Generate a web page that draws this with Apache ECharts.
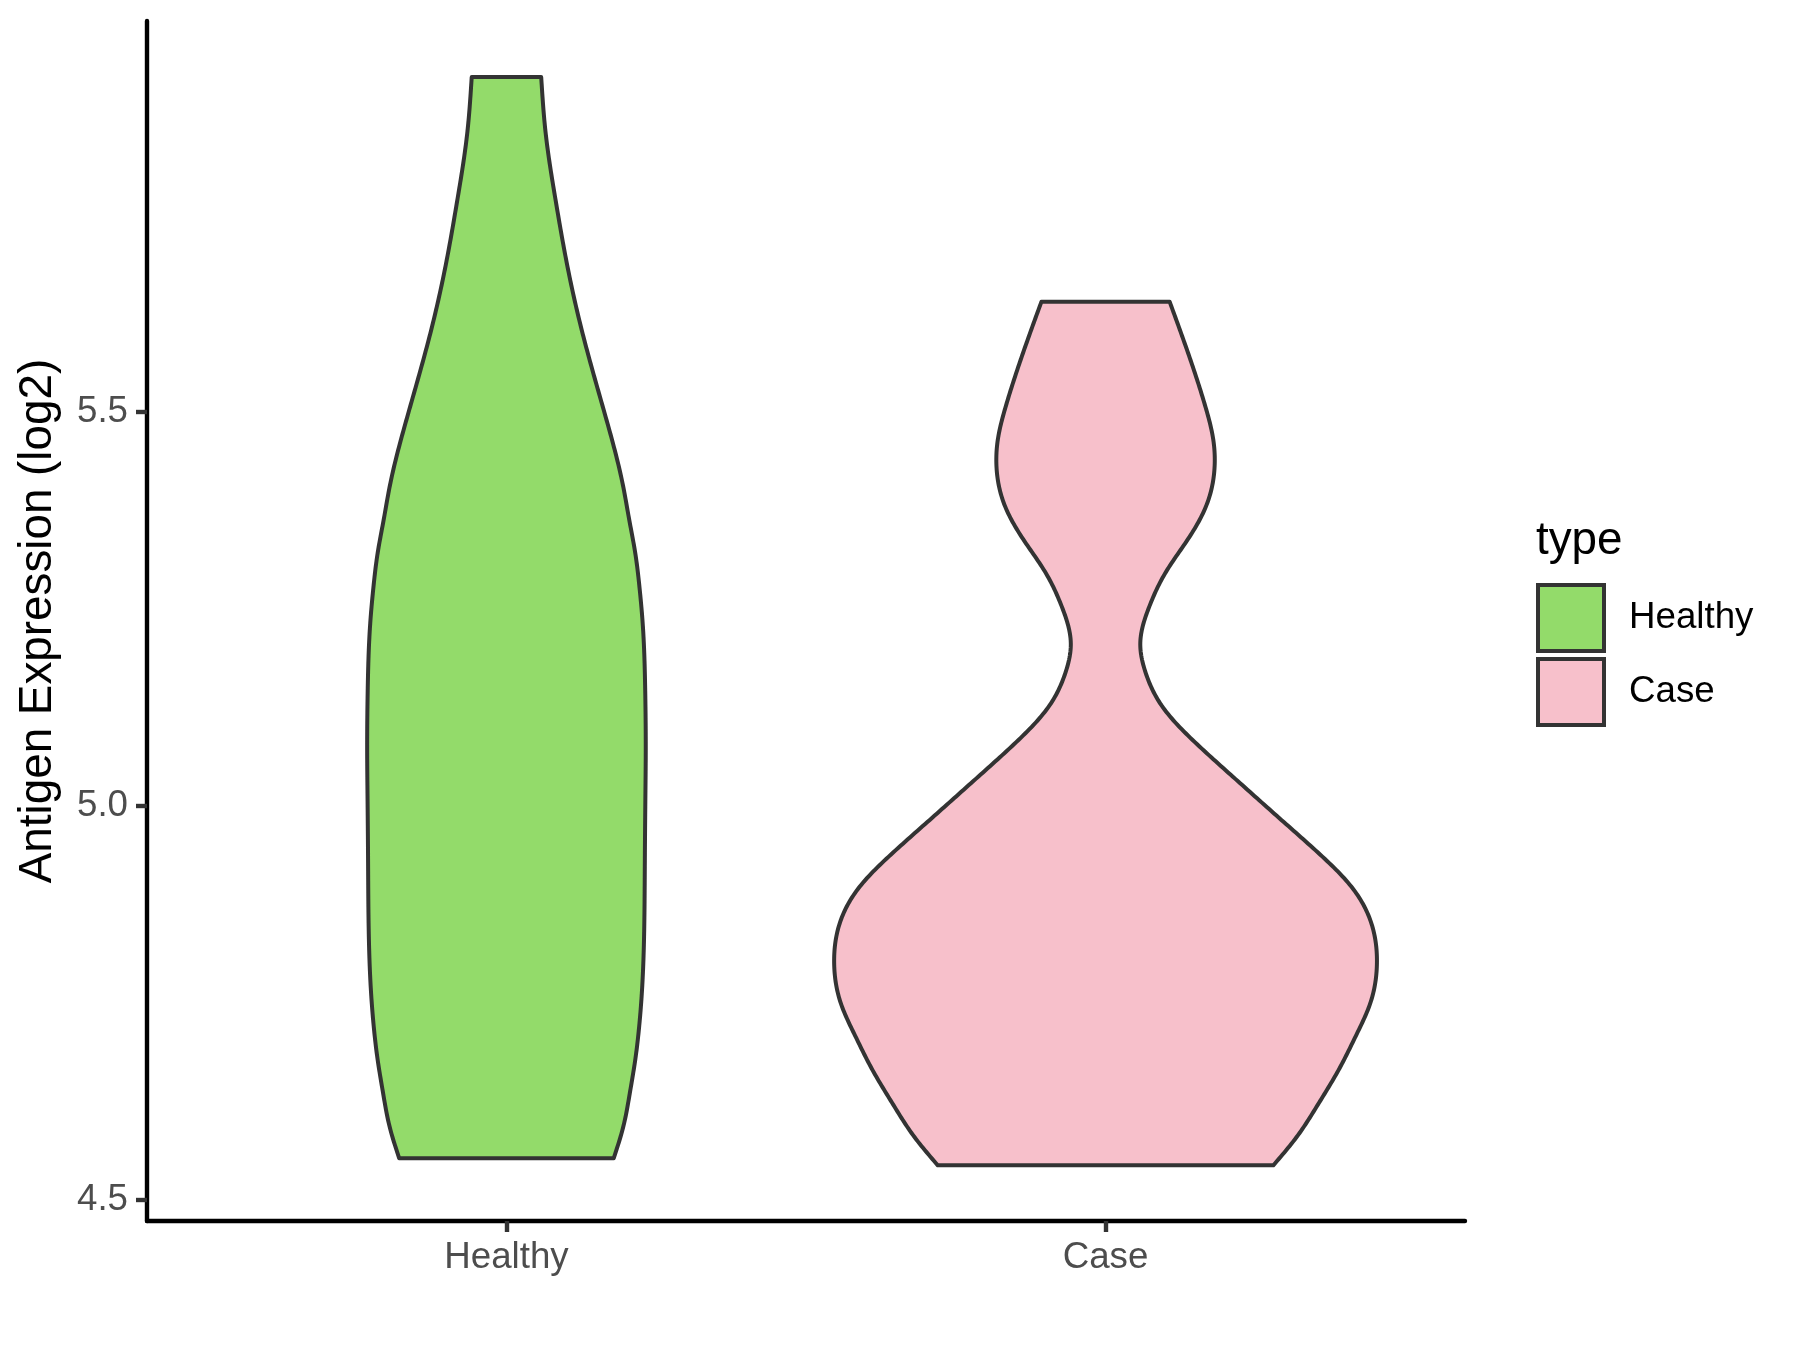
<!DOCTYPE html>
<html>
<head>
<meta charset="utf-8">
<script src="https://cdn.jsdelivr.net/npm/echarts@6/dist/echarts.min.js"></script>
<style>
html,body{margin:0;padding:0;background:#fff;}
#chart{width:1800px;height:1350px;}
</style>
</head>
<body>
<div id="chart"></div>
<script>
// ---- data ----
const categories = ['Healthy', 'Case'];
const yTicks = [4.5, 5.0, 5.5];
const fillColors = ['#93DB6A', '#F7C0CB'];

// violin outlines: expression value (bottom -> top) and half-width (in category units)
const healthyY = [4.553, 4.593, 4.636, 4.678, 4.720, 4.763, 4.846, 4.931, 5.020, 5.067, 5.151, 5.194, 5.236, 5.278, 5.321, 5.363, 5.405, 5.448, 5.490, 5.600, 5.684, 5.769, 5.857, 5.925];
const healthyHalfWidth = [0.179, 0.195, 0.206, 0.215, 0.2215, 0.226, 0.230, 0.231, 0.232, 0.2325, 0.2315, 0.230, 0.227, 0.222, 0.215, 0.205, 0.195, 0.182, 0.167, 0.127, 0.102, 0.082, 0.065, 0.058];

const caseY = [4.544, 4.580, 4.623, 4.665, 4.707, 4.750, 4.801, 4.855, 4.897, 4.940, 4.982, 5.024, 5.058, 5.084, 5.126, 5.169, 5.207, 5.253, 5.296, 5.338, 5.379, 5.430, 5.464, 5.506, 5.570, 5.640];
const caseHalfWidth = [0.280, 0.319, 0.356, 0.389, 0.417, 0.442, 0.453, 0.442, 0.411, 0.356, 0.294, 0.232, 0.182, 0.145, 0.095, 0.067, 0.058, 0.073, 0.100, 0.137, 0.167, 0.182, 0.180, 0.167, 0.140, 0.107];

const profiles = [
  { y: healthyY, w: healthyHalfWidth },
  { y: caseY, w: caseHalfWidth }
];

// ---- natural cubic spline of half-width as a function of value ----
function splineSampler(xs, fs) {
  const n = xs.length;
  const h = [], alpha = [], l = [1], mu = [0], z = [0], c = new Array(n).fill(0);
  for (let i = 0; i < n - 1; i++) h.push(xs[i + 1] - xs[i]);
  for (let i = 1; i < n - 1; i++) alpha[i] = 3 / h[i] * (fs[i + 1] - fs[i]) - 3 / h[i - 1] * (fs[i] - fs[i - 1]);
  for (let i = 1; i < n - 1; i++) {
    l[i] = 2 * (xs[i + 1] - xs[i - 1]) - h[i - 1] * mu[i - 1];
    mu[i] = h[i] / l[i];
    z[i] = (alpha[i] - h[i - 1] * z[i - 1]) / l[i];
  }
  const b = [], d = [];
  for (let j = n - 2; j >= 0; j--) {
    c[j] = j === 0 ? 0 : z[j] - mu[j] * c[j + 1];
    b[j] = (fs[j + 1] - fs[j]) / h[j] - h[j] * (c[j + 1] + 2 * c[j]) / 3;
    d[j] = (c[j + 1] - c[j]) / (3 * h[j]);
  }
  return function (x) {
    let j = 0;
    while (j < n - 2 && x > xs[j + 1]) j++;
    const dx = x - xs[j];
    return fs[j] + b[j] * dx + c[j] * dx * dx + d[j] * dx * dx * dx;
  };
}

function makeRender(idx) {
  return function (params, api) {
    const prof = profiles[idx];
    const center = idx + 1;
    const f = splineSampler(prof.y, prof.w);
    const y0 = prof.y[0], y1 = prof.y[prof.y.length - 1];
    const N = 400;
    const left = [], right = [];
    for (let k = 0; k <= N; k++) {
      const y = y0 + (y1 - y0) * k / N;
      const w = f(y);
      left.push(api.coord([center - w, y]));
      right.push(api.coord([center + w, y]));
    }
    const pts = left.concat(right.reverse());
    return {
      type: 'polygon',
      shape: { points: pts },
      style: { fill: fillColors[idx], stroke: '#333333', lineWidth: 4, lineJoin: 'round' }
    };
  };
}

const FONT = 'Liberation Sans, Arial, sans-serif';

const chart = echarts.init(document.getElementById('chart'), null, { renderer: 'canvas' });
chart.setOption({
  backgroundColor: '#ffffff',
  animation: false,
  grid: { left: 147, top: 21, width: 1318, height: 1200, containLabel: false },
  xAxis: {
    type: 'value', min: 0.4, max: 2.6,
    splitLine: { show: false },
    axisLine: { show: true, onZero: false, lineStyle: { color: '#000', width: 4.4 } },
    axisTick: { show: true, customValues: [1, 2], length: 11, lineStyle: { color: '#333', width: 4.4 } },
    axisLabel: {
      show: true, customValues: [1, 2], margin: 18,
      formatter: function (v) { return categories[Math.round(v) - 1] || ''; },
      color: '#4D4D4D', fontSize: 36.7, fontFamily: FONT
    }
  },
  yAxis: {
    type: 'value', min: 4.4734, max: 5.9962,
    name: 'Antigen Expression (log2)', nameLocation: 'middle', nameGap: 86,
    nameTextStyle: { color: '#000', fontSize: 45.8, fontFamily: FONT },
    splitLine: { show: false },
    axisLine: { show: true, onZero: false, lineStyle: { color: '#000', width: 4.4 } },
    axisTick: { show: true, customValues: yTicks, length: 11, lineStyle: { color: '#333', width: 4.4 } },
    axisLabel: {
      show: true, customValues: yTicks, margin: 19,
      formatter: function (v) { return Number(v).toFixed(1); },
      color: '#4D4D4D', fontSize: 36.7, fontFamily: FONT
    }
  },
  legend: {
    show: true, orient: 'vertical', left: 1536, top: 583, padding: 0,
    itemWidth: 66, itemHeight: 66, itemGap: 4, icon: 'rect', selectedMode: false,
    textStyle: { color: '#000', fontSize: 36.7, fontFamily: FONT, padding: [0, 0, 0, 20] },
    data: [
      { name: categories[0], itemStyle: { color: fillColors[0], borderColor: '#333', borderWidth: 4 } },
      { name: categories[1], itemStyle: { color: fillColors[1], borderColor: '#333', borderWidth: 4 } }
    ]
  },
  graphic: [
    { type: 'text', left: 1536, top: 518, style: { text: 'type', fill: '#000', fontSize: 45.8, fontFamily: FONT } }
  ],
  series: [
    { name: categories[0], type: 'custom', renderItem: makeRender(0), data: [[1, 5]], itemStyle: { color: fillColors[0], borderColor: '#333', borderWidth: 4 }, clip: false, encode: { x: 0, y: 1 } },
    { name: categories[1], type: 'custom', renderItem: makeRender(1), data: [[2, 5]], itemStyle: { color: fillColors[1], borderColor: '#333', borderWidth: 4 }, clip: false, encode: { x: 0, y: 1 } }
  ]
});
</script>
</body>
</html>
